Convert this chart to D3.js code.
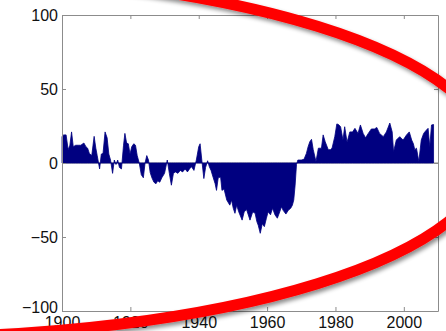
<!DOCTYPE html>
<html>
<head>
<meta charset="utf-8">
<script src="https://cdn.jsdelivr.net/npm/d3@7"></script>
<style>
  html, body { margin: 0; padding: 0; background: #fff; }
  svg { display: block; }
  .tick text { font-family: "Liberation Sans", Arial, Helvetica, sans-serif; font-size: 16px; fill: #111; }
</style>
</head>
<body>
<div id="vis"></div>
<script>
// years and values
var years = [
  1900.0,1900.5,1901.2,1901.8,1902.3,1902.8,1903.3,1904.0,1904.8,1905.5,1906.4,1907.0,1907.5,1908.0,1908.7,
  1909.4,1909.9,1910.3,1911.0,1911.5,1912.0,1912.6,1913.2,1913.7,1914.2,1914.8,1915.3,1915.8,1916.3,1916.8,
  1917.4,1918.0,1918.4,1918.9,1919.4,1919.9,1920.4,1921.0,1921.5,1922.0,1922.6,1923.2,1923.8,1924.3,1924.8,
  1925.3,1925.8,1926.3,1926.9,1927.5,1928.0,1928.6,1929.2,1930.0,1930.8,1931.4,1932.0,1932.6,1933.2,1933.9,
  1934.6,1935.3,1936.0,1936.7,1937.3,1937.9,1938.6,1939.3,1940.0,1940.4,1940.9,1941.5,1942.0,1942.6,1943.1,
  1943.6,1944.2,1944.8,1945.2,1945.7,1946.4,1946.8,1947.4,1948.2,1949.1,1949.6,1950.1,1950.6,1951.1,1951.7,
  1952.7,1953.3,1954.0,1955.0,1955.8,1956.5,1957.0,1957.4,1958.0,1958.6,1959.2,1959.8,1960.3,1961.0,1961.6,
  1962.3,1963.0,1963.7,1964.2,1964.7,1965.5,1966.2,1966.9,1967.4,1967.8,1968.2,1968.6,1969.0,1970.0,1970.8,
  1971.5,1972.0,1972.5,1973.0,1973.5,1974.3,1975.0,1975.9,1976.4,1977.0,1977.9,1978.5,1979.0,1979.8,1980.4,
  1980.9,1981.5,1982.2,1982.7,1983.4,1984.2,1985.0,1985.7,1986.6,1987.3,1988.1,1988.8,1989.6,1990.5,1991.4,
  1992.1,1992.9,1994.0,1994.9,1995.9,1996.6,1997.0,1997.8,1998.8,1999.8,2000.8,2001.6,2002.3,2002.8,2003.2,
  2003.7,2004.4,2005.1,2005.8,2006.5,2007.1,2007.6,2008.1,2008.7
];
var values = [
  18,19,19,9,12,21,11,12,12,12,13.5,11,10,6.5,5,
  18,10,5,-4,6,6.5,21,17,6,2,-7,2,-1,2,-3,
  -4,12,20,13.5,13,6,11,13,12,5,0,-8,-10,0,5,
  2,-6.5,-10,-13,-14,-12,-13,-10,-7,2,-7,-15,-7,-6,-7,
  -5,-6,-4,-6,-4,-2.5,-5,2,11,13,2,-10.5,-3,1.5,-2.5,
  -5,-9.6,-14,-18.5,-10,-9.5,-18.5,-17.5,-25,-28.5,-25,-30.6,-34,-28.5,-33,
  -38.6,-33,-31.5,-38.6,-33,-34,-39.6,-42,-47.5,-41,-43,-37.3,-33,-35,-30.6,
  -35,-37.3,-33,-29.6,-32,-34.5,-32,-30.6,-28.5,-25,-15,-1,2,2,2.5,
  6.5,11,14.4,16,9,1,10,10,19,14.4,9,9,10,17.8,26.4,
  26,24.5,15.5,24.5,14,21,21,23.4,20,25.7,20,17,20,23,23,
  24,20,17.8,21,27,21,7.6,15.5,17.8,15.5,19,21,15.5,13,9,
  10,1,15.5,20,22,23.4,11,25.7,26
];
var xTicks = [1900, 1920, 1940, 1960, 1980, 2000];
var yTicks = [-100, -50, 0, 50, 100];

var width = 446, height = 331;
var margin = {top: 15, right: 8, bottom: 20, left: 62};

var svg = d3.select("#vis").append("svg")
  .attr("width", width)
  .attr("height", height);

var defs = svg.append("defs");
var shadow = defs.append("filter")
  .attr("id", "shadow")
  .attr("x", "-20%").attr("y", "-20%")
  .attr("width", "140%").attr("height", "140%");
shadow.append("feDropShadow")
  .attr("dx", 2).attr("dy", 3)
  .attr("stdDeviation", 2)
  .attr("flood-color", "#000")
  .attr("flood-opacity", 0.45);

var xScale = d3.scaleLinear()
  .domain([1900, 2010])
  .range([margin.left, width - margin.right]);

var yScale = d3.scaleLinear()
  .domain([-100, 100])
  .range([height - margin.bottom, margin.top]);

var data = years.map(function(y, i){ return {year: y, val: values[i]}; });

// zero baseline
svg.append("line")
  .attr("x1", xScale(1900)).attr("x2", xScale(2010))
  .attr("y1", yScale(0)).attr("y2", yScale(0))
  .style("stroke", "#888")
  .style("stroke-width", 1);

var area = d3.area()
  .x(function(d){ return xScale(d.year); })
  .y0(yScale(0))
  .y1(function(d){ return yScale(d.val); });

svg.append("path")
  .datum(data)
  .attr("d", area)
  .style("fill", "#000080")
  .style("stroke", "#000080")
  .style("stroke-width", 0.8);

// axes, ticks pointing in like matlab
var axisColor = "#8c8c8c";
function styleAxis(g){
  g.select(".domain").style("stroke", axisColor);
  g.selectAll(".tick line").style("stroke", axisColor);
}

svg.append("g")
  .attr("transform", "translate(0," + yScale(-100) + ")")
  .call(d3.axisBottom(xScale).tickValues(xTicks).tickSize(-4).tickSizeOuter(0).tickPadding(6).tickFormat(d3.format("d")))
  .call(styleAxis);

svg.append("g")
  .attr("transform", "translate(0," + yScale(100) + ")")
  .call(d3.axisTop(xScale).tickValues(xTicks).tickSize(-4).tickSizeOuter(0).tickFormat(""))
  .call(styleAxis);

var yAxis = svg.append("g")
  .attr("transform", "translate(" + xScale(1900) + ",0)")
  .call(d3.axisLeft(yScale).tickValues(yTicks).tickSize(-4).tickSizeOuter(0).tickPadding(4))
  .call(styleAxis);

// lowest label sits right on the corner, lift it a little off the year labels
yAxis.selectAll(".tick text")
  .filter(function(d){ return d == -100; })
  .attr("dy", "0.1em");

svg.append("g")
  .attr("transform", "translate(" + xScale(2010) + ",0)")
  .call(d3.axisRight(yScale).tickValues(yTicks).tickSize(-4).tickSizeOuter(0).tickFormat(""))
  .call(styleAxis);

// red ellipse drawn over the chart
svg.append("ellipse")
  .attr("cx", -97)
  .attr("cy", 155)
  .attr("rx", 586)
  .attr("ry", 182)
  .style("fill", "none")
  .style("stroke", "#ff0000")
  .style("stroke-width", 11)
  .attr("filter", "url(#shadow)");
</script>
</body>
</html>
